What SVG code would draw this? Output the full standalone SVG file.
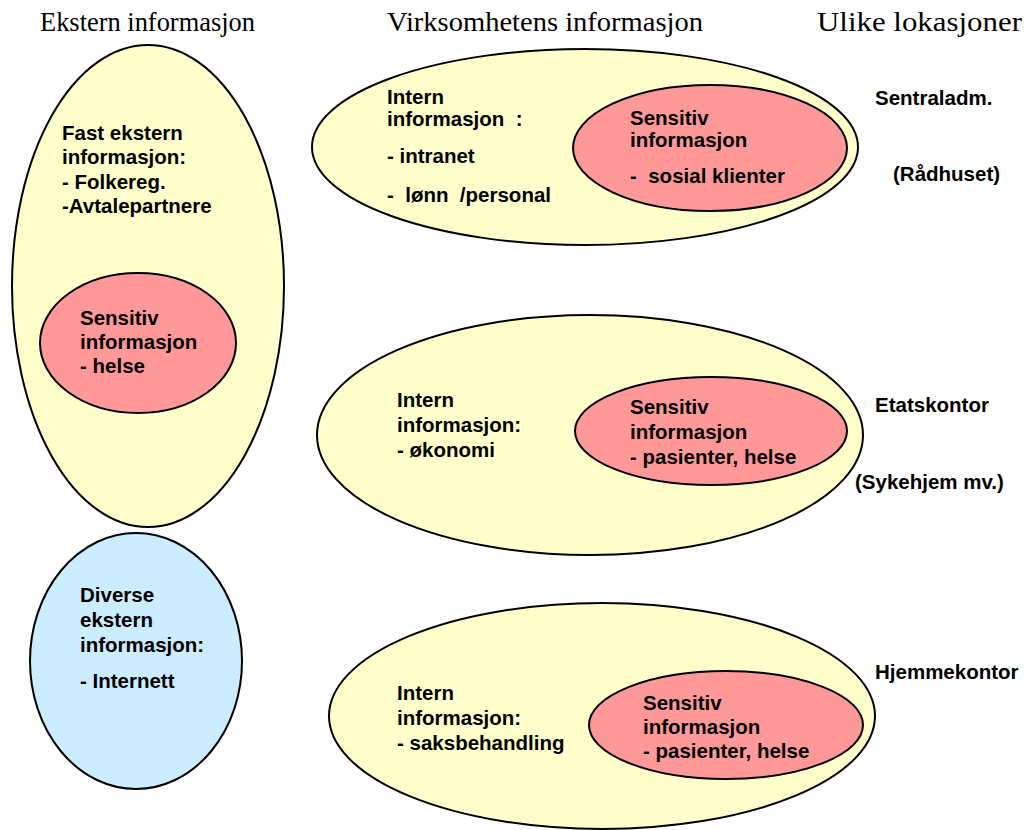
<svg xmlns="http://www.w3.org/2000/svg" width="1025" height="830" viewBox="0 0 1025 830">
  <style>
    .title { font-family: "Liberation Serif", "Times New Roman", serif; font-size: 27px; fill: #000; }
    .lbl { font-family: "Liberation Sans", Arial, sans-serif; font-size: 20.5px; font-weight: bold; fill: #000; white-space: pre; }
    .outer { fill: #FFFFCC; stroke: #000; stroke-width: 2; }
    .sens { fill: #FF9999; stroke: #000; stroke-width: 2; }
    .misc { fill: #CCECFF; stroke: #000; stroke-width: 2; }
  </style>

  <!-- column headings -->
  <g id="headings">
    <text class="title" x="40" y="31" textLength="215" lengthAdjust="spacingAndGlyphs">Ekstern informasjon</text>
    <text class="title" x="387" y="31" textLength="316" lengthAdjust="spacingAndGlyphs">Virksomhetens informasjon</text>
    <text class="title" x="817" y="31" textLength="205" lengthAdjust="spacingAndGlyphs">Ulike lokasjoner</text>
  </g>

  <!-- external information -->
  <g id="fast-ekstern">
    <ellipse class="outer" cx="148" cy="286" rx="136" ry="241"/>
    <text class="lbl" x="62" y="140">Fast ekstern</text>
    <text class="lbl" x="62" y="164">informasjon:</text>
    <text class="lbl" x="62" y="189">- Folkereg.</text>
    <text class="lbl" x="62" y="213">-Avtalepartnere</text>
  </g>
  <g id="sensitiv-helse">
    <ellipse class="sens" cx="138" cy="343" rx="98" ry="70"/>
    <text class="lbl" x="80" y="325">Sensitiv</text>
    <text class="lbl" x="80" y="349">informasjon</text>
    <text class="lbl" x="80" y="373">- helse</text>
  </g>
  <g id="diverse-ekstern">
    <ellipse class="misc" cx="136" cy="661" rx="106" ry="128"/>
    <text class="lbl" x="80" y="602">Diverse</text>
    <text class="lbl" x="80" y="627">ekstern</text>
    <text class="lbl" x="80" y="652">informasjon:</text>
    <text class="lbl" x="80" y="688">- Internett</text>
  </g>

  <!-- internal information, central administration -->
  <g id="intern-sentral">
    <ellipse class="outer" cx="585" cy="147" rx="273" ry="98"/>
    <text class="lbl" x="387" y="104">Intern</text>
    <text class="lbl" x="387" y="126">informasjon  :</text>
    <text class="lbl" x="387" y="163">- intranet</text>
    <text class="lbl" x="387" y="202">-  lønn  /personal</text>
  </g>
  <g id="sensitiv-sosial">
    <ellipse class="sens" cx="710" cy="148" rx="137" ry="63"/>
    <text class="lbl" x="630" y="125">Sensitiv</text>
    <text class="lbl" x="630" y="147">informasjon</text>
    <text class="lbl" x="630" y="183">-  sosial klienter</text>
  </g>

  <!-- internal information, department offices -->
  <g id="intern-etat">
    <ellipse class="outer" cx="590" cy="435" rx="273" ry="120"/>
    <text class="lbl" x="397" y="407">Intern</text>
    <text class="lbl" x="397" y="432">informasjon:</text>
    <text class="lbl" x="397" y="457">- økonomi</text>
  </g>
  <g id="sensitiv-etat">
    <ellipse class="sens" cx="711" cy="431" rx="136" ry="54"/>
    <text class="lbl" x="630" y="414">Sensitiv</text>
    <text class="lbl" x="630" y="439">informasjon</text>
    <text class="lbl" x="630" y="464">- pasienter, helse</text>
  </g>

  <!-- internal information, home office -->
  <g id="intern-hjemme">
    <ellipse class="outer" cx="602" cy="716" rx="273" ry="113"/>
    <text class="lbl" x="397" y="700">Intern</text>
    <text class="lbl" x="397" y="725">informasjon:</text>
    <text class="lbl" x="397" y="750">- saksbehandling</text>
  </g>
  <g id="sensitiv-hjemme">
    <ellipse class="sens" cx="726" cy="725" rx="137" ry="54"/>
    <text class="lbl" x="643" y="710">Sensitiv</text>
    <text class="lbl" x="643" y="734">informasjon</text>
    <text class="lbl" x="643" y="758">- pasienter, helse</text>
  </g>

  <!-- location labels -->
  <g id="lokasjoner">
    <text class="lbl" x="875" y="105">Sentraladm.</text>
    <text class="lbl" x="893" y="181">(Rådhuset)</text>
    <text class="lbl" x="875" y="412">Etatskontor</text>
    <text class="lbl" x="855" y="489">(Sykehjem mv.)</text>
    <text class="lbl" x="875" y="679">Hjemmekontor</text>
  </g>

  <g id="connectors"/>
</svg>
